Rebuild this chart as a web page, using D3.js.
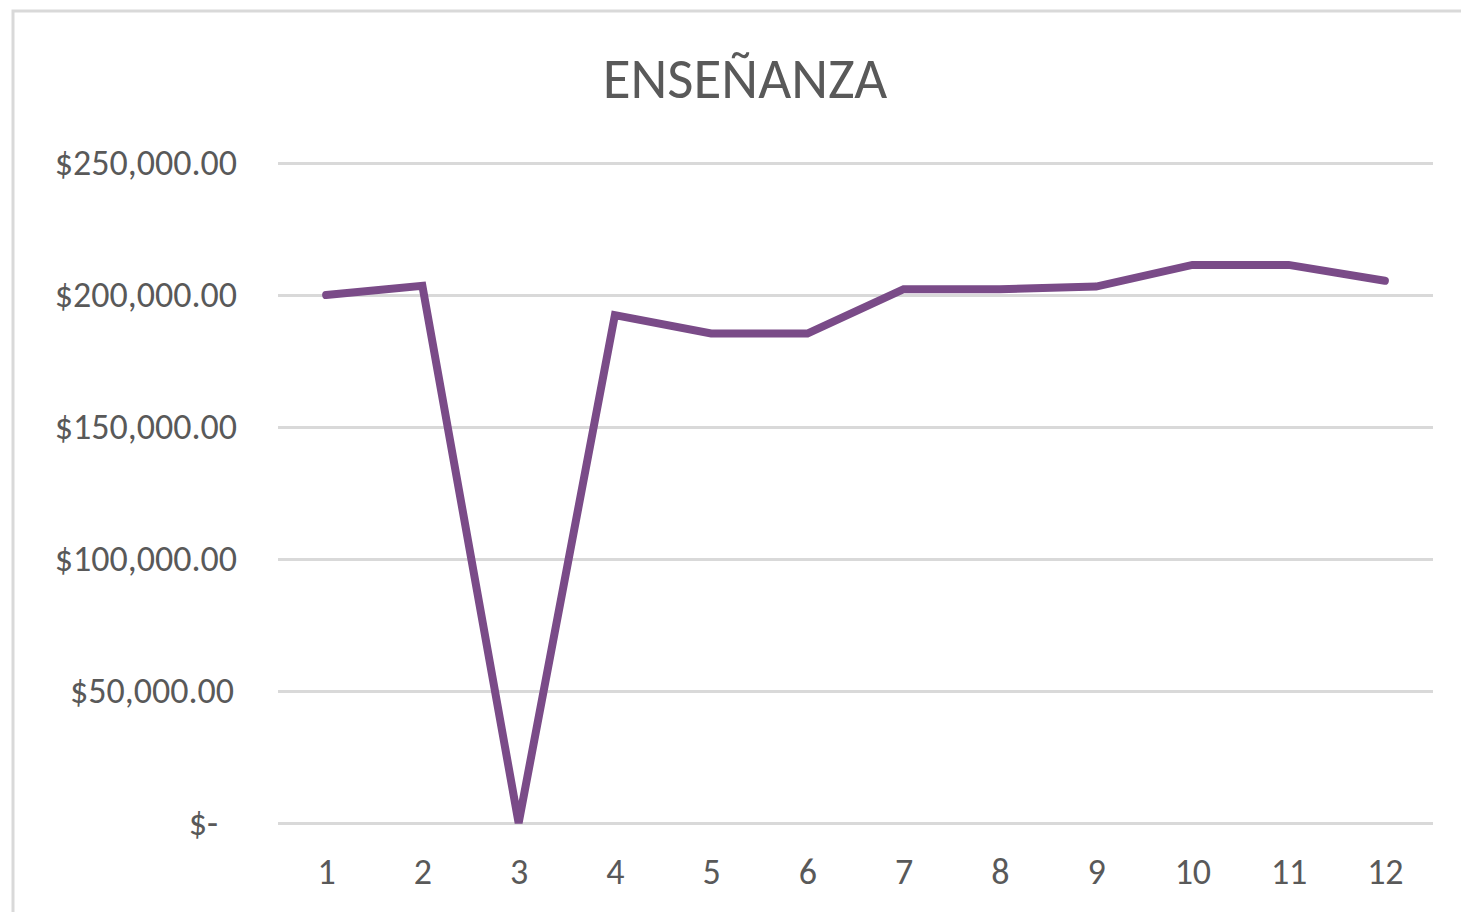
<!DOCTYPE html>
<html>
<head>
<meta charset="utf-8">
<script src="https://cdn.jsdelivr.net/npm/d3@7"></script>
<style>
  body { margin: 0; background: #fff; }
  svg { display: block; }
</style>
</head>
<body>
<script>
// datos
const meses = [1, 2, 3, 4, 5, 6, 7, 8, 9, 10, 11, 12];
const valores = [200000, 203500, 0, 192400, 185400, 185400, 202200, 202200, 203200, 211400, 211400, 205400];
const yTicks = [0, 50000, 100000, 150000, 200000, 250000];
const titulo = 'ENSEÑANZA';

const W = 1461, H = 912;
const margin = {top: 163, right: 28, bottom: 89, left: 278};
const innerW = W - margin.left - margin.right;
const innerH = H - margin.top - margin.bottom;
const fontes = "Carlito, Calibri, 'Open Sans', sans-serif";

const svg = d3.select('body').append('svg').attr('width', W).attr('height', H);

// borde del gráfico
svg.append('rect').attr('x', 13).attr('y', 11).attr('width', W + 10).attr('height', H + 10)
  .attr('fill', 'none').attr('stroke', '#d9d9d9').attr('stroke-width', 3);

// titulo
svg.append('text').text(titulo).attr('x', 745).attr('y', 98)
  .attr('text-anchor', 'middle').attr('font-family', fontes).attr('font-size', '57px').attr('fill', '#595959');

const g = svg.append('g').attr('transform', `translate(${margin.left},${margin.top})`);

const x = d3.scalePoint().domain(meses).range([0, innerW]).padding(0.5);
const y = d3.scaleLinear().domain([0, 250000]).range([innerH, 0]);

// eje y con lineas de cuadricula
const fmt = v => v === 0 ? '$-' : '$' + d3.format(',.2f')(v);
const yAxis = d3.axisLeft(y).tickValues(yTicks).tickSize(-innerW).tickPadding(0).tickFormat(fmt);
const yAxisG = g.append('g').call(yAxis);
yAxisG.select('.domain').remove();
yAxisG.selectAll('.tick line').attr('stroke', '#d9d9d9').attr('stroke-width', 3);
yAxisG.selectAll('.tick text').attr('x', -41).attr('font-family', fontes).attr('font-size', '36px').attr('fill', '#595959')
  .attr('dx', d => d === 0 ? -19 : (d === 50000 ? -3 : 0));

// eje x
const xAxis = d3.axisBottom(x).tickSize(0).tickPadding(35);
const xAxisG = g.append('g').attr('transform', `translate(0,${innerH})`).call(xAxis);
xAxisG.select('.domain').remove();
xAxisG.selectAll('.tick text').attr('font-family', fontes).attr('font-size', '36px').attr('fill', '#595959');

// linea
const line = d3.line().x((d, i) => x(meses[i])).y(d => y(d));
g.append('path').datum(valores).attr('d', line)
  .attr('fill', 'none').attr('stroke', '#7a4b88').attr('stroke-width', 8)
  .attr('stroke-linejoin', 'miter').attr('stroke-linecap', 'round');
</script>
</body>
</html>
